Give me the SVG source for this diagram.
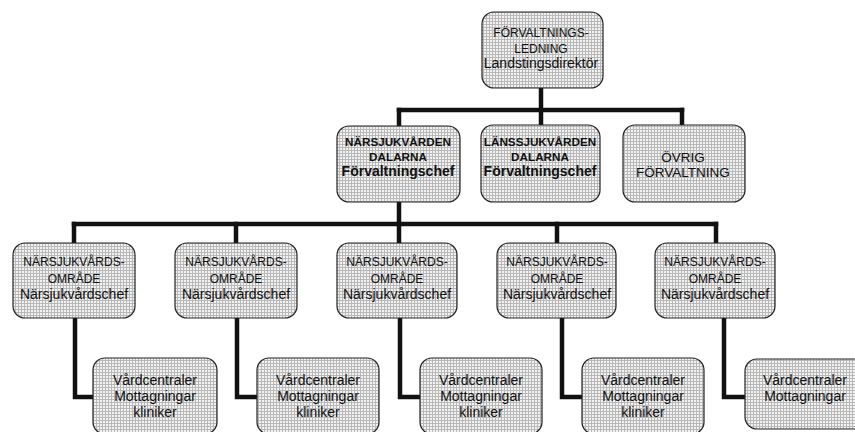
<svg xmlns="http://www.w3.org/2000/svg" width="855" height="432" viewBox="0 0 855 432">
  <defs>
    <pattern id="dots" width="3" height="3" patternUnits="userSpaceOnUse">
      <rect width="3" height="3" fill="#f2f2f2"/>
      <rect width="3" height="1" fill="#b8b8b8"/>
      <rect width="1" height="3" fill="#b8b8b8"/>
    </pattern>
  </defs>
  <style>
    .box { fill: url(#dots); stroke: #222; stroke-width: 1.2; }
    .conn { fill: none; stroke: #111; stroke-width: 4.5; stroke-linejoin: miter; stroke-linecap: square; }
    text { font-family: "Liberation Sans", Arial, sans-serif; text-anchor: middle; fill: #111; }
    .cap { font-size: 12px; }
    .low { font-size: 14px; }
    .bcap { font-size: 11.7px; font-weight: bold; }
    .blow { font-size: 14px; font-weight: bold; }
    .mid { font-size: 13.5px; }
  </style>
  <rect width="855" height="432" fill="#ffffff"/>

  <g id="connectors">
    <path class="conn" d="M541 88 V125"/>
    <path class="conn" d="M399 110 H682"/>
    <path class="conn" d="M399 110 V126"/>
    <path class="conn" d="M682 110 V125"/>
    <path class="conn" d="M399 202 V224"/>
    <path class="conn" d="M74 224 H716"/>
    <path class="conn" d="M74 224 V243"/>
    <path class="conn" d="M236 224 V243"/>
    <path class="conn" d="M399 224 V243"/>
    <path class="conn" d="M557 224 V243"/>
    <path class="conn" d="M716 224 V243"/>
    <path class="conn" d="M75 318 V397 H93"/>
    <path class="conn" d="M237 318 V397 H257"/>
    <path class="conn" d="M400 318 V397 H420"/>
    <path class="conn" d="M562 318 V397 H582"/>
    <path class="conn" d="M724 318 V397 H745"/>
  </g>

  <g id="n-top">
    <rect class="box" x="482" y="12" width="121" height="76" rx="12"/>
    <text class="cap" x="541" y="37">FÖRVALTNINGS-</text>
    <text class="cap" x="541" y="53">LEDNING</text>
    <text class="low" x="541" y="68">Landstingsdirektör</text>
  </g>

  <g id="n-narsjukvarden">
    <rect class="box" x="337" y="126" width="123" height="76" rx="12"/>
    <text class="bcap" x="398" y="146">NÄRSJUKVÅRDEN</text>
    <text class="bcap" x="398" y="161">DALARNA</text>
    <text class="blow" x="398" y="176">Förvaltningschef</text>
  </g>

  <g id="n-lanssjukvarden">
    <rect class="box" x="481" y="125" width="119" height="77" rx="12"/>
    <text class="bcap" x="540" y="146">LÄNSSJUKVÅRDEN</text>
    <text class="bcap" x="540" y="161">DALARNA</text>
    <text class="blow" x="540" y="176">Förvaltningschef</text>
  </g>

  <g id="n-ovrig">
    <rect class="box" x="623" y="125" width="122" height="77" rx="12"/>
    <text class="mid" x="683" y="162">ÖVRIG</text>
    <text class="mid" x="683" y="177">FÖRVALTNING</text>
  </g>

  <g id="n-omr1">
    <rect class="box" x="13" y="243" width="122" height="75" rx="12"/>
    <text class="cap" x="74" y="266">NÄRSJUKVÅRDS-</text>
    <text class="cap" x="74" y="283">OMRÅDE</text>
    <text class="low" x="74" y="299">Närsjukvårdschef</text>
  </g>
  <g id="n-omr2">
    <rect class="box" x="175" y="243" width="122" height="75" rx="12"/>
    <text class="cap" x="236" y="266">NÄRSJUKVÅRDS-</text>
    <text class="cap" x="236" y="283">OMRÅDE</text>
    <text class="low" x="236" y="299">Närsjukvårdschef</text>
  </g>
  <g id="n-omr3">
    <rect class="box" x="337" y="243" width="120" height="75" rx="12"/>
    <text class="cap" x="397" y="266">NÄRSJUKVÅRDS-</text>
    <text class="cap" x="397" y="283">OMRÅDE</text>
    <text class="low" x="397" y="299">Närsjukvårdschef</text>
  </g>
  <g id="n-omr4">
    <rect class="box" x="497" y="243" width="119" height="75" rx="12"/>
    <text class="cap" x="557" y="266">NÄRSJUKVÅRDS-</text>
    <text class="cap" x="557" y="283">OMRÅDE</text>
    <text class="low" x="557" y="299">Närsjukvårdschef</text>
  </g>
  <g id="n-omr5">
    <rect class="box" x="655" y="243" width="120" height="75" rx="12"/>
    <text class="cap" x="715" y="266">NÄRSJUKVÅRDS-</text>
    <text class="cap" x="715" y="283">OMRÅDE</text>
    <text class="low" x="715" y="299">Närsjukvårdschef</text>
  </g>

  <g id="n-vc1">
    <rect class="box" x="93" y="358" width="124" height="76" rx="12"/>
    <text class="low" x="155" y="385">Vårdcentraler</text>
    <text class="low" x="155" y="401">Mottagningar</text>
    <text class="low" x="155" y="417">kliniker</text>
  </g>
  <g id="n-vc2">
    <rect class="box" x="257" y="358" width="122" height="76" rx="12"/>
    <text class="low" x="318" y="385">Vårdcentraler</text>
    <text class="low" x="318" y="401">Mottagningar</text>
    <text class="low" x="318" y="417">kliniker</text>
  </g>
  <g id="n-vc3">
    <rect class="box" x="420" y="358" width="122" height="76" rx="12"/>
    <text class="low" x="481" y="385">Vårdcentraler</text>
    <text class="low" x="481" y="401">Mottagningar</text>
    <text class="low" x="481" y="417">kliniker</text>
  </g>
  <g id="n-vc4">
    <rect class="box" x="582" y="358" width="122" height="76" rx="12"/>
    <text class="low" x="643" y="385">Vårdcentraler</text>
    <text class="low" x="643" y="401">Mottagningar</text>
    <text class="low" x="643" y="417">kliniker</text>
  </g>
  <g id="n-vc5">
    <rect class="box" x="745" y="359" width="122" height="70" rx="12"/>
    <text class="low" x="805" y="385">Vårdcentraler</text>
    <text class="low" x="805" y="401">Mottagningar</text>
  </g>
</svg>
